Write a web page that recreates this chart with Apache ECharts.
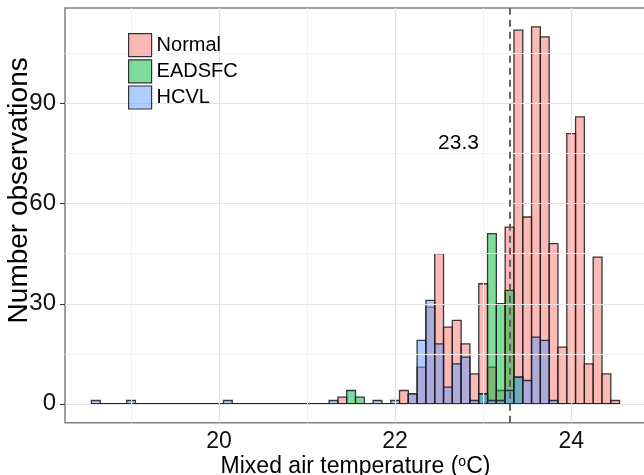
<!DOCTYPE html>
<html><head><meta charset="utf-8">
<script src="https://cdn.jsdelivr.net/npm/echarts@6/dist/echarts.min.js"></script>
<style>html,body{margin:0;padding:0;background:#fff}#c{width:644px;height:475px}</style>
</head><body><div id="c"></div>
<script>
// ---- data ----
const binCenters = [18.6,18.7,18.8,18.9,19.0,19.1,19.2,19.3,19.4,19.5,
  19.6,19.7,19.8,19.9,20.0,20.1,20.2,20.3,20.4,20.5,
  20.6,20.7,20.8,20.9,21.0,21.1,21.2,21.3,21.4,21.5,
  21.6,21.7,21.8,21.9,22.0,22.1,22.2,22.3,22.4,22.5,
  22.6,22.7,22.8,22.9,23.0,23.1,23.2,23.3,23.4,23.5,
  23.6,23.7,23.8,23.9,24.0,24.1,24.2,24.3,24.4,24.5];
const binWidth = 0.1;
const normalCounts = [0,0,0,0,0,0,0,0,0,0,
  0,0,0,0,0,0,0,0,0,0,
  0,0,0,0,0,0,0,0,2,0,
  0,0,0,0,0,4,3,11,29,45,
  23,25,18,9,36,11,4,53,112,56,
  113,110,48,17,81,86,12,44,9,1];
const eadsfcCounts = [0,0,0,0,0,0,0,0,0,0,
  0,0,0,0,0,0,0,0,0,0,
  0,0,0,0,0,0,0,0,0,4,
  2,0,0,0,0,0,0,0,0,0,
  0,0,0,0,3,51,30,34,8,0,
  0,0,0,0,0,0,0,0,0,0];
const hcvlCounts = [1,0,0,0,1,0,0,0,0,0,
  0,0,0,0,0,1,0,0,0,0,
  0,0,0,0,0,0,0,1,0,0,
  0,0,1,0,1,0,3,19,31,18,
  5,12,14,1,3,1,1,4,8,7,
  20,19,1,0,0,0,0,0,0,0];
const seriesNames = ['Normal','EADSFC','HCVL'];
const xTickLabels = [20,22,24];
const xMinorGrid = [19,21,23];
const yTickLabels = [0,30,60,90];
const yMinorGrid = [15,45,75,105];
const thresholdValue = 23.3;
const annotationPoint = [22.72, 78];
const annotationText = '23.3';

// ---- styles ----
const FONT = 'Liberation Sans, Arial, sans-serif';
const fills = ['rgba(248,118,109,0.5)','rgba(0,186,56,0.5)','rgba(97,156,255,0.5)'];
const strokeCol = 'rgba(25,25,25,0.85)';

function makeRender(fill){
  return function(params, api){
    const x = api.value(0), y = api.value(1);
    const p0 = api.coord([x - binWidth/2, y]);
    const p1 = api.coord([x + binWidth/2, 0]);
    return {type:'rect', shape:{x:p0[0], y:p0[1], width:p1[0]-p0[0], height:p1[1]-p0[1]},
      style:{fill:fill, stroke:strokeCol, lineWidth:1.3}};
  };
}
const countsList = [normalCounts, eadsfcCounts, hcvlCounts];
const barSeries = seriesNames.map((n,i)=>({
  name:n, type:'custom', z:3,
  renderItem: makeRender(fills[i]),
  itemStyle:{color:fills[i]},
  encode:{x:0,y:1},
  data: binCenters.map((c,k)=>[c, countsList[i][k]]),
  silent:true
}));

const gridSeries = {
  name:'grid', type:'line', z:1, data:[], silent:true,
  markLine:{silent:true, symbol:'none', label:{show:false}, animation:false,
    data: [].concat(
      xMinorGrid.map(v=>({xAxis:v, lineStyle:{color:'#f2f2f2', width:1, type:'solid'}})),
      yMinorGrid.map(v=>({yAxis:v, lineStyle:{color:'#f2f2f2', width:1, type:'solid'}})),
      xTickLabels.map(v=>({xAxis:v, lineStyle:{color:'#e3e3e3', width:1.2, type:'solid'}})),
      yTickLabels.map(v=>({yAxis:v, lineStyle:{color:'#e3e3e3', width:1.2, type:'solid'}}))
    )}
};

const annotSeries = {
  name:'annot', type:'scatter', z:5, symbolSize:0, silent:true,
  itemStyle:{opacity:1, color:'#000'},
  data:[annotationPoint],
  label:{show:true, position:'inside', formatter:annotationText, fontSize:21, color:'#000',
    opacity:1, fontFamily:FONT, textBorderWidth:0},
  markLine:{silent:true, symbol:'none', label:{show:false}, animation:false,
    data:[{xAxis:thresholdValue}],
    lineStyle:{color:'#555', width:1.8, type:[7,5], opacity:1}}
};

const chart = echarts.init(document.getElementById('c'), null, {renderer:'canvas'});
chart.setOption({
  animation:false,
  backgroundColor:'#fff',
  textStyle:{fontFamily:FONT},
  graphic:[{type:'rect', left:127, top:33, z:2, silent:true,
    shape:{width:354, height:145}, style:{fill:'#fff'}}],
  grid:{left:65, top:8, width:581, height:414.7, show:true, borderColor:'#808080', borderWidth:1.5,
    backgroundColor:'transparent', outerBoundsMode:'none', containLabel:false},
  legend:{
    orient:'vertical', left:127, top:33, padding:[0,0,0,1], z:6,
    itemWidth:23, itemHeight:23, itemGap:2, selectedMode:false,
    textStyle:{fontSize:20, color:'#000', fontFamily:FONT},
    data: seriesNames.map((n,i)=>({name:n, icon:'rect', itemStyle:{color:fills[i], borderColor:'#333', borderWidth:1.2}}))
  },
  xAxis:{type:'value', min:18.25, max:24.85,
    axisLine:{show:false}, splitLine:{show:false},
    axisTick:{show:true, customValues:xTickLabels, length:5, lineStyle:{color:'#333', width:1}},
    axisLabel:{customValues:xTickLabels, fontSize:23, margin:7, color:'#111', fontFamily:FONT},
    name:'Mixed air temperature ({s|o}C)', nameLocation:'middle', nameGap:32, nameMoveOverlap:false,
    nameTextStyle:{fontSize:23, color:'#000', fontFamily:FONT,
      rich:{s:{fontSize:14, verticalAlign:'top', fontFamily:FONT, color:'#000'}}}
  },
  yAxis:{type:'value', min:-5.65, max:118.65,
    axisLine:{show:false}, splitLine:{show:false},
    axisTick:{show:true, customValues:yTickLabels, length:5, lineStyle:{color:'#333', width:1}},
    axisLabel:{customValues:yTickLabels, fontSize:24, margin:9, color:'#111', fontFamily:FONT},
    name:'Number observations', nameLocation:'middle', nameGap:32, nameMoveOverlap:false,
    nameTextStyle:{fontSize:28, color:'#000', fontFamily:FONT, padding:[0,0,0,50]}
  },
  series:[gridSeries].concat(barSeries).concat([annotSeries])
});
</script></body></html>
